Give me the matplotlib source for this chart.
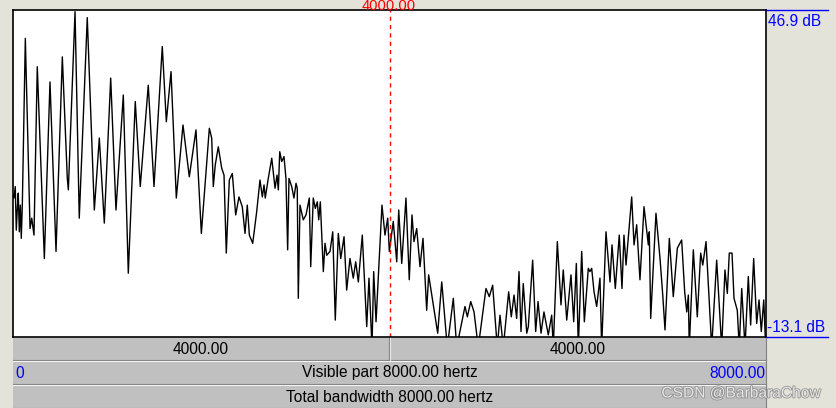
import numpy as np
import matplotlib
matplotlib.use('Agg')
import matplotlib.pyplot as plt
from matplotlib.patches import Rectangle
import matplotlib.patheffects as pe

# spectrum (peaks and dips), Hz / dB
freq = [0, 11, 24, 35, 46, 56, 67, 78, 88, 99, 131, 181, 199, 223, 258, 333, 393, 457, 524, 577,
        588, 659, 704, 789, 864, 917, 970, 1038, 1094, 1172, 1225, 1299, 1352, 1437, 1498, 1586, 1629, 1679, 1735, 1806,
        1873, 1944, 2001, 2086, 2111, 2128, 2149, 2181, 2217, 2242, 2266, 2298, 2330, 2366, 2401, 2436, 2465, 2489, 2511, 2547,
        2589, 2624, 2649, 2667, 2680, 2712, 2749, 2784, 2805, 2819, 2834, 2855, 2879, 2900, 2918, 2932, 2961, 2985, 3007, 3020,
        3031, 3049, 3084, 3113, 3148, 3163, 3190, 3212, 3233, 3248, 3265, 3297, 3315, 3333, 3368, 3397, 3424, 3456, 3482, 3517,
        3545, 3580, 3615, 3641, 3669, 3711, 3740, 3758, 3782, 3814, 3832, 3857, 3920, 3952, 3981, 3998, 4040, 4077, 4098, 4130,
        4175, 4210, 4239, 4260, 4289, 4324, 4356, 4395, 4416, 4512, 4555, 4614, 4678, 4714, 4802, 4827, 4863, 4898, 4943, 5025,
        5060, 5096, 5145, 5174, 5209, 5266, 5294, 5323, 5351, 5376, 5397, 5421, 5458, 5475, 5521, 5553, 5578, 5610, 5641, 5687,
        5723, 5740, 5783, 5822, 5846, 5883, 5928, 5957, 5985, 6006, 6042, 6070, 6112, 6130, 6148, 6173, 6201, 6236, 6254, 6300,
        6343, 6364, 6399, 6441, 6470, 6491, 6513, 6548, 6573, 6598, 6626, 6661, 6704, 6750, 6760, 6775, 6831, 6874, 6903, 6927,
        6973, 7015, 7058, 7104, 7136, 7158, 7175, 7185, 7228, 7270, 7306, 7328, 7363, 7423, 7476, 7529, 7564, 7589, 7610, 7639,
        7660, 7695, 7716, 7742, 7777, 7812, 7837, 7869, 7901, 7926, 7950, 7976, 7997]
db = [13.0, 12.4, 14.5, 6.5, 10.5, 13.3, 6.2, 11.1, 5.0, 11.1, 41.7, 6.8, 8.7, 5.6, 36.5, 1.3, 33.7, 2.6, 38.3, 16.0,
      13.9, 46.6, 8.7, 45.5, 10.2, 23.4, 7.8, 34.4, 10.2, 31.3, -1.4, 30.1, 14.5, 33.1, 14.5, 40.2, 26.4, 35.6, 12.4, 25.8,
      16.3, 24.9, 5.9, 25.2, 23.4, 14.5, 18.5, 21.8, 17.9, 16.6, 2.3, 15.7, 16.9, 9.3, 12.6, 10.8, 5.9, 11.1, 5.6, 4.1,
      9.9, 15.7, 12.6, 14.8, 12.4, 16.0, 19.7, 14.2, 16.6, 13.9, 20.9, 19.1, 20.0, 16.0, 2.9, 16.0, 14.5, 12.4, 15.1, 14.2,
      -6.0, 11.1, 8.4, 9.3, 12.4, -0.2, 12.4, 10.5, 11.7, 8.4, 11.7, -1.1, 4.1, 1.9, 2.6, 6.2, -10.0, 5.9, 1.3, 5.3,
      -4.5, 1.3, -2.3, 0.7, -3.0, 5.6, -4.8, -11.2, -2.3, -15.0, -1.1, -10.3, 11.1, 5.6, 8.7, 2.6, 8.1, 0.7, 10.2, 0.4,
      12.4, -2.6, 9.3, 4.4, 6.8, -0.2, 5.0, -8.2, -1.7, -12.4, -3.0, -15.0, -6.0, -15.0, -7.5, -9.4, -6.6, -8.5, -15.0, -4.2,
      -5.7, -3.6, -15.0, -9.1, -15.0, -4.8, -9.4, -5.4, -9.7, -1.1, -12.1, -3.3, -12.4, -11.2, 1.0, -12.1, -6.6, -12.4, -8.5, -12.7,
      -9.1, -15.0, 4.4, -7.2, -0.8, -10.0, -1.7, -10.3, 0.4, -15.0, 2.6, -10.3, -0.5, -1.1, -0.5, -4.8, -7.5, -2.3, -15.0, 6.2,
      -3.0, 3.8, -4.2, 5.6, -4.2, 5.6, 0.1, 7.5, 12.6, 3.8, 7.5, -2.6, 10.8, 3.8, 6.2, -9.7, 9.6, 1.3, -5.4, -11.8,
      5.0, -5.7, 3.2, 4.7, -4.8, -8.5, -5.4, -15.0, 2.9, -9.4, 2.3, 0.1, 4.4, -15.0, 1.0, -15.0, -0.8, -5.1, 2.3, 2.3,
      -6.0, -8.2, -15.0, -4.2, -15.0, -2.0, -10.9, 1.3, -10.6, -6.3, -12.1, -6.3, -15.0]

db_top = 46.9
db_bottom = -13.1
f_max = 8000.0
cursor = 4000.0

W, H = 836, 408
bg = '#e3e3d9'
bar = '#c0c0c0'
font = 'Liberation Sans'
fs = 11.2

fig = plt.figure(figsize=(W / 100, H / 100), dpi=100, facecolor=bg)


def fx(px):
    return px / W


def fy(py):
    return 1 - py / H


ax = fig.add_axes([fx(13), fy(337), fx(766) - fx(13), fy(10) - fy(337)])
ax.set_facecolor('white')
ax.plot(freq, db, color='black', lw=1.0)
ax.axvline(cursor, color='red', lw=1, ls=(0, (3, 3)))
ax.set_xlim(0, f_max)
ax.set_ylim(db_bottom, db_top)
ax.set_xticks([])
ax.set_yticks([])
for s in ax.spines.values():
    s.set_color('black')
    s.set_linewidth(1.2)

# blue guide lines and dB labels on the right
fig.add_artist(plt.Line2D([fx(766), fx(828)], [fy(10), fy(10)], color='blue', lw=1))
fig.add_artist(plt.Line2D([fx(766), fx(828)], [fy(337), fy(337)], color='blue', lw=1))
fig.text(fx(768), fy(26), '%.1f dB' % db_top, color='blue', fontsize=fs, family=font, va='baseline', ha='left')
fig.text(fx(767), fy(332), '%.1f dB' % db_bottom, color='blue', fontsize=fs, family=font, va='baseline', ha='left')
fig.text(fx(389), fy(9.8), '%.2f' % cursor, color='red', fontsize=fs - 0.6, family=font, va='baseline', ha='center')

# bars underneath
rows = [(338, 360), (361, 384), (386, 408)]
for top, bot in rows:
    fig.add_artist(Rectangle((fx(13), fy(bot)), fx(766) - fx(13), fy(top) - fy(bot), facecolor=bar, edgecolor='none'))
    fig.add_artist(plt.Line2D([fx(13), fx(766)], [fy(bot), fy(bot)], color='#808080', lw=0.8))
    fig.add_artist(plt.Line2D([fx(13), fx(766)], [fy(bot + 1), fy(bot + 1)], color='#f4f4f4', lw=0.8))
fig.add_artist(plt.Line2D([fx(766), fx(766)], [fy(338), 0], color='#808080', lw=0.8))
fig.add_artist(plt.Line2D([fx(389), fx(389)], [fy(338), fy(360)], color='#808080', lw=0.8))
fig.add_artist(plt.Line2D([fx(390), fx(390)], [fy(338), fy(360)], color='#e8e8e8', lw=0.8))

fig.text(fx(201), fy(349), '%.2f' % cursor, fontsize=fs, family=font, va='center', ha='center')
fig.text(fx(578), fy(349), '%.2f' % (f_max - cursor), fontsize=fs, family=font, va='center', ha='center')
fig.text(fx(15), fy(373), '0', color='blue', fontsize=fs, family=font, va='center', ha='left')
fig.text(fx(390), fy(373), 'Visible part %.2f hertz' % f_max, fontsize=fs, family=font, va='center', ha='center')
fig.text(fx(765), fy(373), '%.2f' % f_max, color='blue', fontsize=fs, family=font, va='center', ha='right')
fig.text(fx(390), fy(397), 'Total bandwidth %.2f hertz' % f_max, fontsize=fs, family=font, va='center', ha='center')

# watermark
fig.text(fx(820), fy(393), 'CSDN @BarbaraChow', color='#f0f0f0', fontsize=fs, family=font,
         va='center', ha='right', alpha=0.9,
         path_effects=[pe.withStroke(linewidth=1.2, foreground='#8a8a8a')])

fig.savefig('out.png', dpi=100, facecolor=bg)
